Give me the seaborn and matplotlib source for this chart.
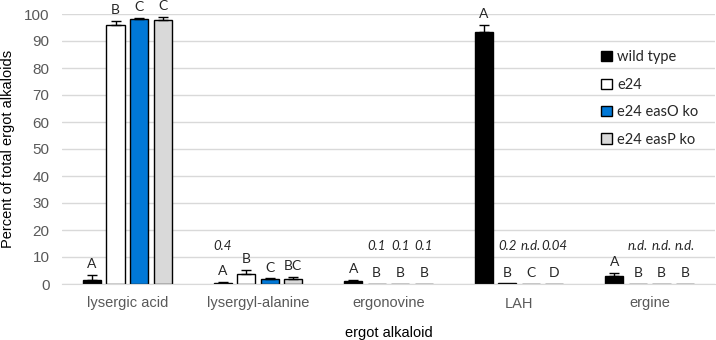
import pandas as pd
import numpy as np
import seaborn as sns
import matplotlib
matplotlib.use("Agg")
import matplotlib.pyplot as plt

# values (percent of total ergot alkaloids)
alkaloids = ["lysergic acid", "lysergyl-alanine", "ergonovine", "LAH", "ergine"]
strains = ["wild type", "e24", "e24 easO ko", "e24 easP ko"]

wild_type = [1.5, 0.5, 1.2, 93.5, 3.0]
e24 = [95.9, 3.7, 0.1, 0.2, 0.0]
e24_easO = [98.1, 1.7, 0.1, 0.0, 0.0]
e24_easP = [97.9, 1.85, 0.1, 0.04, 0.0]

wild_type_err = [1.8, 0.3, 0.4, 2.4, 1.0]
e24_err = [1.6, 1.5, 0.0, 0.0, 0.0]
e24_easO_err = [0.4, 0.4, 0.0, 0.0, 0.0]
e24_easP_err = [1.0, 0.8, 0.0, 0.0, 0.0]

# significance letters and small-value notes
wild_type_letters = ["A", "A", "A", "A", "A"]
e24_letters = ["B", "B", "B", "B", "B"]
e24_easO_letters = ["C", "C", "B", "C", "B"]
e24_easP_letters = ["C", "BC", "B", "D", "B"]

wild_type_notes = ["", "0.4", "", "", ""]
e24_notes = ["", "", "0.1", "0.2", "n.d."]
e24_easO_notes = ["", "", "0.1", "n.d.", "n.d."]
e24_easP_notes = ["", "", "0.1", "0.04", "n.d."]

values = [wild_type, e24, e24_easO, e24_easP]
errors = [wild_type_err, e24_err, e24_easO_err, e24_easP_err]
letters = [wild_type_letters, e24_letters, e24_easO_letters, e24_easP_letters]
notes = [wild_type_notes, e24_notes, e24_easO_notes, e24_easP_notes]

rows = []
for s, vals in zip(strains, values):
    for a, v in zip(alkaloids, vals):
        rows.append({"alkaloid": a, "strain": s, "percent": v})
df = pd.DataFrame(rows)

sns.set_style("white")
plt.rcParams["font.family"] = ["Liberation Sans", "DejaVu Sans"]

colors = {"wild type": "#000000", "e24": "#ffffff",
          "e24 easO ko": "#0078d7", "e24 easP ko": "#d9d9d9"}

fig = plt.figure(figsize=(7.16, 3.4), dpi=100)
ax = fig.add_axes([62 / 716, 1 - 284 / 340, 653 / 716, 270 / 340])

sns.barplot(data=df, x="alkaloid", y="percent", hue="strain", hue_order=strains,
            order=alkaloids, palette=colors, saturation=1, width=0.72, gap=0.23,
            edgecolor="black", linewidth=1, errorbar=None, ax=ax)

ax.set_ylim(0, 100)
ax.set_xlim(-0.5, 4.5)
ax.set_yticks(range(0, 101, 10))
ax.yaxis.grid(True, color="#d9d9d9", linewidth=1)
ax.set_axisbelow(True)
for side in ["top", "right", "left"]:
    ax.spines[side].set_visible(False)
ax.spines["bottom"].set_color("#d9d9d9")
ax.tick_params(axis="both", length=0, labelsize=10.5, labelcolor="#595959")
ax.tick_params(axis="y", labelsize=11)
ax.tick_params(axis="x", pad=9)
ax.tick_params(axis="y", pad=9)

ax.set_ylabel("Percent of total ergot alkaloids", fontsize=10.5, color="#000000")
ax.set_xlabel("ergot alkaloid", fontsize=10.5, color="#000000")
ax.yaxis.set_label_coords(-0.072, 0.5)
ax.xaxis.set_label_coords(0.5, -0.155)

bar_groups = list(ax.containers)
for i, cont in enumerate(bar_groups):
    for j, bar in enumerate(cont.patches):
        x = bar.get_x() + bar.get_width() / 2
        top = bar.get_height()
        err = errors[i][j]
        if err > 0:
            ax.errorbar(x, top, yerr=[[0], [err]], fmt="none", ecolor="black",
                        elinewidth=1, capsize=3.5, capthick=1)
        ly = max(top + err + 4.0, 4.0)
        ax.text(x, ly, letters[i][j], ha="center", va="center", fontsize=10,
                family=["Lato", "DejaVu Sans"], clip_on=False)
        if notes[i][j]:
            ax.text(x, 14, notes[i][j], ha="center", va="center", fontsize=9.5,
                    style="italic", family=["Lato", "DejaVu Sans"])

ax.legend(loc="upper left", bbox_to_anchor=(594 / 716, 1 - 43 / 340),
          bbox_transform=fig.transFigure, frameon=False,
          prop={"family": "Lato", "size": 10.5},
          handlelength=0.7, handleheight=0.7, handletextpad=0.4,
          labelspacing=0.92, borderpad=0, title=None)

fig.savefig("out.png", dpi=100)
